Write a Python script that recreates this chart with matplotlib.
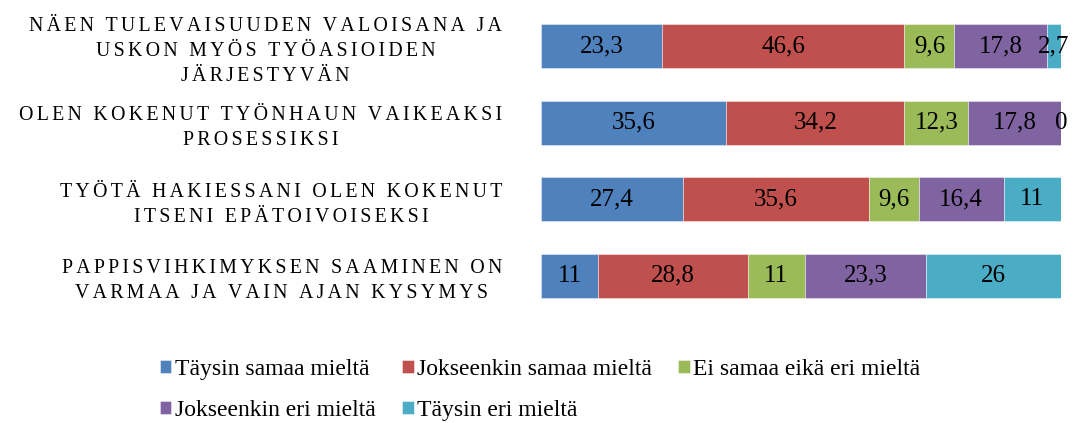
import matplotlib.pyplot as plt
import numpy as np

plt.rcParams['font.family'] = ['Liberation Serif', 'DejaVu Serif']

statements = ['NÄEN TULEVAISUUDEN VALOISANA JA\nUSKON MYÖS TYÖASIOIDEN\nJÄRJESTYVÄN',
              'OLEN KOKENUT TYÖNHAUN VAIKEAKSI\nPROSESSIKSI',
              'TYÖTÄ HAKIESSANI OLEN KOKENUT\nITSENI EPÄTOIVOISEKSI',
              'PAPPISVIHKIMYKSEN SAAMINEN ON\nVARMAA JA VAIN AJAN KYSYMYS']
series = ['Täysin samaa mieltä', 'Jokseenkin samaa mieltä', 'Ei samaa eikä eri mieltä',
          'Jokseenkin eri mieltä', 'Täysin eri mieltä']
taysin_samaa = [23.3, 35.6, 27.4, 11]
jokseenkin_samaa = [46.6, 34.2, 35.6, 28.8]
ei_samaa_eika_eri = [9.6, 12.3, 9.6, 11]
jokseenkin_eri = [17.8, 17.8, 16.4, 23.3]
taysin_eri = [2.7, 0, 11, 26]

colors = ['#4F81BD', '#C0504D', '#9BBB59', '#8064A2', '#4BACC6']


def spaced(s, sp='\u2006'):
    # wide letter spacing like the original
    return '\n'.join(sp.join(line) for line in s.split('\n'))


vals = np.array([taysin_samaa, jokseenkin_samaa, ei_samaa_eika_eri, jokseenkin_eri, taysin_eri])
pct = vals / vals.sum(axis=0) * 100
y = np.arange(len(statements))

fig = plt.figure(figsize=(10.76, 4.23), dpi=100)
ax = fig.add_axes([541 / 1076, 1 - 314 / 423, 520 / 1076, 306 / 423])

left = np.zeros(len(statements))
handles = []
for i in range(len(series)):
    b = ax.barh(y, pct[i], left=left, height=0.57, color=colors[i],
                edgecolor=(1, 1, 1, 0.5), linewidth=0.6, label=series[i])
    handles.append(b)
    for j in range(len(statements)):
        txt = f"{vals[i, j]:g}".replace('.', ',')
        ax.text(left[j] + pct[i, j] / 2, y[j], txt, ha='center', va='center',
                fontsize=18, color='black')
    left += pct[i]

ax.set_xlim(0, 100)
ax.set_ylim(3.5, -0.5)
ax.set_xticks([])
ax.set_yticks(y)
ax.set_yticklabels([spaced(s) for s in statements], fontsize=14.3, linespacing=1.42)
for lab in ax.get_yticklabels():
    lab.set_multialignment('center')
ax.tick_params(axis='y', length=0, pad=28)
for s in ax.spines.values():
    s.set_visible(False)

order = [0, 3, 1, 4, 2]
leg = fig.legend([handles[k] for k in order], [series[k] for k in order], ncol=3,
                 loc='center', bbox_to_anchor=(540 / 1076, 1 - 390 / 423), frameon=False,
                 fontsize=17, handlelength=0.5, handleheight=0.5, handletextpad=0.15,
                 columnspacing=1.1, labelspacing=0.85)

fig.savefig('out.png', dpi=100)
